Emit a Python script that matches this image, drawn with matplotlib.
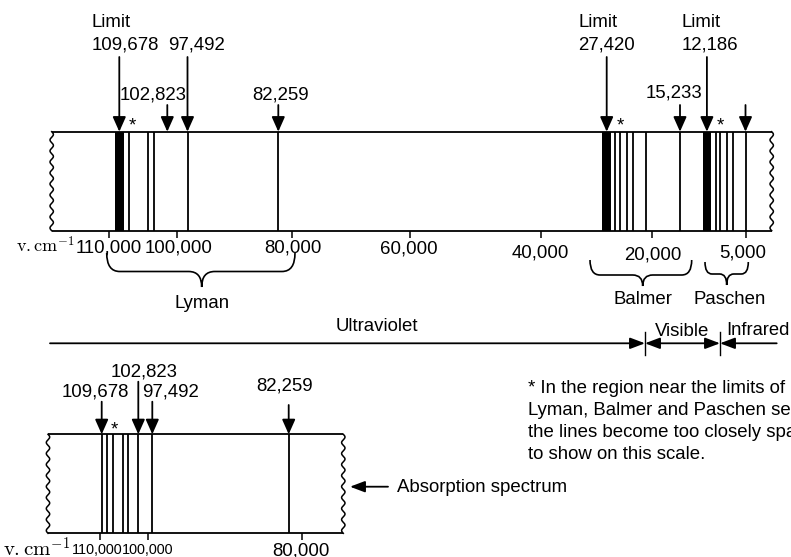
import numpy as np
import matplotlib
matplotlib.use("Agg")
import matplotlib.pyplot as plt
from matplotlib import transforms
from matplotlib.path import Path
from matplotlib.patches import PathPatch

plt.rcParams['font.family'] = ['Liberation Sans', 'DejaVu Sans']
plt.rcParams['mathtext.fontset'] = 'cm'

# ------------------------------------------------------------------ data
# Emission spectrum of hydrogen (wavenumbers, cm^-1)
emission_ticks = [110000, 100000, 80000, 60000, 40000, 20000, 5000]
lyman_limit = 109678
lyman_band = (109810, 109007)
lyman_lines = [108336, 105537, 104723, 97492, 82259]
lyman_arrows_limit = [109678, 97492]
lyman_arrows_short = [102823, 82259]

balmer_limit = 27420
balmer_band = (28260, 26770)
balmer_lines = [26070, 25260, 24070, 23090, 21080, 15233]
balmer_arrows_short = [15233]

paschen_limit = 12186
paschen_band = (12660, 11420)
paschen_lines = [10550, 9750, 8390, 7380, 5000]
paschen_arrows_short = [5000]          # arrow drawn without label

series_names = ["Lyman", "Balmer", "Paschen"]
regions = ["Ultraviolet", "Visible", "Infrared"]

# Absorption spectrum (wavenumbers, cm^-1)
absorption_ticks = [110000, 100000, 80000]
absorption_lines = [109678, 108629, 107505, 105745, 104808, 102823, 97492, 82259]
absorption_arrows = [109678, 102823, 97492, 82259]

footnote = ["* In the region near the limits of",
            "Lyman, Balmer and Paschen series",
            "the lines become too closely spaced",
            "to show on this scale."]

# ------------------------------------------------------------------ layout
W, H = 791, 557
FS = 13.4
LW = 1.3
# schematic (non-linear) wavenumber -> pixel scales of the original drawing
TOP_SCALE_WN = [125700, 110000, 109678, 102823, 100000, 97492, 82259, 80000,
                60000, 40000, 27420, 20000, 15233, 12186, 5000, -3630]
TOP_SCALE_PX = [0, 108.8, 119.3, 167.3, 177.3, 187.5, 278.3, 291.7,
                410, 540.7, 606.7, 652.3, 680, 706.9, 745.5, 791]
BOT_SCALE_WN = [124870, 110000, 109678, 102823, 100000, 97492, 82259, 80000, 7240]
BOT_SCALE_PX = [0, 100, 101.7, 138.3, 148.3, 152.3, 288.7, 301.7, 791]

TOP_BOX = dict(x0=51.7, x1=771.7, yt=131.7, yb=230.7)
BOT_BOX = dict(x0=48.0, x1=343.3, yt=434.3, yb=533.3)

fig = plt.figure(figsize=(W / 100, H / 100), dpi=100)
canvas = fig.add_axes([0, 0, 1, 1])
canvas.set_xlim(0, W)
canvas.set_ylim(H, 0)
canvas.axis('off')


def spectrum_axes(box, wn_anchor, px_anchor, ticks):
    ax = fig.add_axes([0, 1 - box['yb'] / H, 1, (box['yb'] - box['yt']) / H])
    wn_asc = np.asarray(wn_anchor, float)[::-1]
    neg_px = -np.asarray(px_anchor, float)[::-1]      # increasing with wavenumber

    def fwd(x):
        return np.interp(np.asarray(x, float), wn_asc, neg_px)

    def inv(t):
        return np.interp(np.asarray(t, float), neg_px, wn_asc)

    ax.set_xscale('function', functions=(fwd, inv))
    ax.set_xlim(wn_anchor[0], wn_anchor[-1])          # high wavenumber on the left
    ax.set_ylim(0, 1)
    ax.patch.set_visible(False)
    for s in ax.spines.values():
        s.set_visible(False)
    ax.set_yticks([])
    ax.set_xticks(ticks)
    ax.tick_params(axis='x', direction='out', length=5, width=1.1,
                   labelbottom=False, color='black')
    return ax


def draw_box(box):
    x0, x1, yt, yb = box['x0'], box['x1'], box['yt'], box['yb']
    canvas.plot([x0, x1], [yt, yt], color='black', lw=LW, solid_capstyle='butt')
    canvas.plot([x0, x1], [yb, yb], color='black', lw=LW, solid_capstyle='butt')
    yy = np.linspace(yt, yb, 300)
    wig = 1.7 * np.sin(2 * np.pi * (yy - yt) / 11.0)
    canvas.plot(x0 + wig, yy, color='black', lw=1.1)
    canvas.plot(x1 + wig, yy, color='black', lw=1.1)


def arrow(T, x, y0, y1):
    canvas.annotate('', xy=(x, y1), xytext=(x, y0), xycoords=T, textcoords=T,
                    arrowprops=dict(arrowstyle='-|>,head_length=0.45,head_width=0.2',
                                    color='black', lw=LW, shrinkA=0, shrinkB=0,
                                    mutation_scale=20))


def label(T, x, y, s, dx=0.0, ha='center', size=FS):
    canvas.annotate(s, xy=(x, y), xycoords=T, xytext=(dx * 0.72, 0),
                    textcoords='offset points', ha=ha, va='center', fontsize=size)


# ------------------------------------------------------------------ top: emission spectrum
ax_t = spectrum_axes(TOP_BOX, TOP_SCALE_WN, TOP_SCALE_PX, emission_ticks)
Tt = transforms.blended_transform_factory(ax_t.transData, canvas.transData)
draw_box(TOP_BOX)

for band in (lyman_band, balmer_band, paschen_band):
    ax_t.axvspan(band[0], band[1], color='black', lw=0)
ax_t.vlines(lyman_lines + balmer_lines + paschen_lines, 0, 1, color='black', lw=LW)

tip = TOP_BOX['yt']
for v in [lyman_limit, balmer_limit, paschen_limit] + lyman_arrows_limit[1:]:
    arrow(Tt, v, 57, tip)
for v in lyman_arrows_short + balmer_arrows_short + paschen_arrows_short:
    arrow(Tt, v, 105, tip)

# labels above the top spectrum
for v, dx in [(lyman_limit, -27.6), (balmer_limit, -28.2), (paschen_limit, -25.2)]:
    label(Tt, v, 22.5, "Limit", dx=dx, ha='left')
    label(Tt, v, 44.5, f"{v:,}", dx=dx, ha='left')
label(Tt, 97492, 44.5, f"{97492:,}", dx=9.2)
label(Tt, 102823, 94.5, f"{102823:,}", dx=-14)
label(Tt, 82259, 94.5, f"{82259:,}", dx=2.5)
label(Tt, 15233, 92.5, f"{15233:,}", dx=-6)
for v, dx in [(lyman_limit, 13.4), (balmer_limit, 14.0), (paschen_limit, 13.5)]:
    label(Tt, v, 126.0, "*", dx=dx)

# tick labels of the top spectrum
tick_label_y = [248.3, 248.3, 248.3, 249.0, 253.0, 255.0, 253.0]
tick_label_dx = [-0.5, 1.7, 0.8, -0.7, -0.2, 0.7, -2.5]
for v, y, dx in zip(emission_ticks, tick_label_y, tick_label_dx):
    label(Tt, v, y, f"{v:,}", dx=dx)
canvas.text(45, 246.5, r'$\mathrm{v.cm}^{-1}$', ha='center', va='center', fontsize=13)


# braces under series
def brace(x1, x2, xm, y_end, y_mid, y_tip, r):
    verts = [(x1, y_end), (x1, y_mid), (x1 + r, y_mid),
             (xm - r, y_mid), (xm, y_mid), (xm, y_tip),
             (xm, y_mid), (xm + r, y_mid),
             (x2 - r, y_mid), (x2, y_mid), (x2, y_end)]
    codes = [Path.MOVETO, Path.CURVE3, Path.CURVE3, Path.LINETO, Path.CURVE3,
             Path.CURVE3, Path.CURVE3, Path.CURVE3, Path.LINETO, Path.CURVE3, Path.CURVE3]
    canvas.add_patch(PathPatch(Path(verts, codes), fill=False, lw=1.2, color='black'))


brace(106.7, 295.0, 201.7, 253, 271.5, 287, 13)
brace(590.0, 691.7, 642.7, 260, 275.0, 286, 10)
brace(705.0, 748.3, 726.7, 262, 274.0, 285, 7)
for name, x, y in zip(series_names, [201.7, 642.7, 730.0], [304, 300, 300]):
    canvas.text(x, y, name, ha='center', va='center', fontsize=FS)

# ------------------------------------------------------------------ region bar
yr = 343.3
ap = dict(color='black', lw=LW, shrinkA=0, shrinkB=0, mutation_scale=20)
canvas.annotate('', xy=(645, yr), xytext=(50, yr),
                arrowprops=dict(arrowstyle='-|>,head_length=0.45,head_width=0.17', **ap))
canvas.annotate('', xy=(720, yr), xytext=(645, yr),
                arrowprops=dict(arrowstyle='<|-|>,head_length=0.45,head_width=0.17', **ap))
canvas.annotate('', xy=(776.7, yr), xytext=(720, yr),
                arrowprops=dict(arrowstyle='<|-,head_length=0.45,head_width=0.17', **ap))
for x in (645, 720):
    canvas.plot([x, x], [332, 355], color='black', lw=1.0)
canvas.text(377, 326.5, regions[0], ha='center', va='center', fontsize=FS)
canvas.text(681.7, 331.5, regions[1], ha='center', va='center', fontsize=FS)
canvas.text(726.5, 330.5, regions[2], ha='left', va='center', fontsize=FS - 0.2)

# footnote
for i, line in enumerate(footnote):
    canvas.text(528.3, 388.3 + 22 * i, line, ha='left', va='center', fontsize=FS)

# ------------------------------------------------------------------ bottom: absorption spectrum
ax_b = spectrum_axes(BOT_BOX, BOT_SCALE_WN, BOT_SCALE_PX, absorption_ticks)
Tb = transforms.blended_transform_factory(ax_b.transData, canvas.transData)
draw_box(BOT_BOX)
ax_b.vlines(absorption_lines, 0, 1, color='black', lw=LW)

arrow_start = [401.7, 381.7, 401.7, 405.0]
for v, y0 in zip(absorption_arrows, arrow_start):
    arrow(Tb, v, y0, BOT_BOX['yt'])
label(Tb, 102823, 371.7, f"{102823:,}", dx=5.7)
label(Tb, 109678, 391.7, f"{109678:,}", dx=-5.9)
label(Tb, 97492, 391.7, f"{97492:,}", dx=18.5)
label(Tb, 82259, 386.0, f"{82259:,}", dx=-3.7)
label(Tb, 109678, 430.0, "*", dx=12.6)

for v, dx, fs in zip(absorption_ticks, [-2.5, -1.0, -1.2], [10.4, 10.4, FS]):
    label(Tb, v, 550.5, f"{v:,}", dx=dx, size=fs)
canvas.text(37, 549, r'$\mathrm{v.cm}^{-1}$', ha='center', va='center', fontsize=15)

# absorption label with arrow
canvas.annotate('', xy=(350, 486.7), xytext=(388, 486.7),
                arrowprops=dict(arrowstyle='-|>,head_length=0.45,head_width=0.17', **ap))
canvas.text(397, 487, "Absorption spectrum", ha='left', va='center', fontsize=FS)

fig.savefig("out.png", dpi=100)
